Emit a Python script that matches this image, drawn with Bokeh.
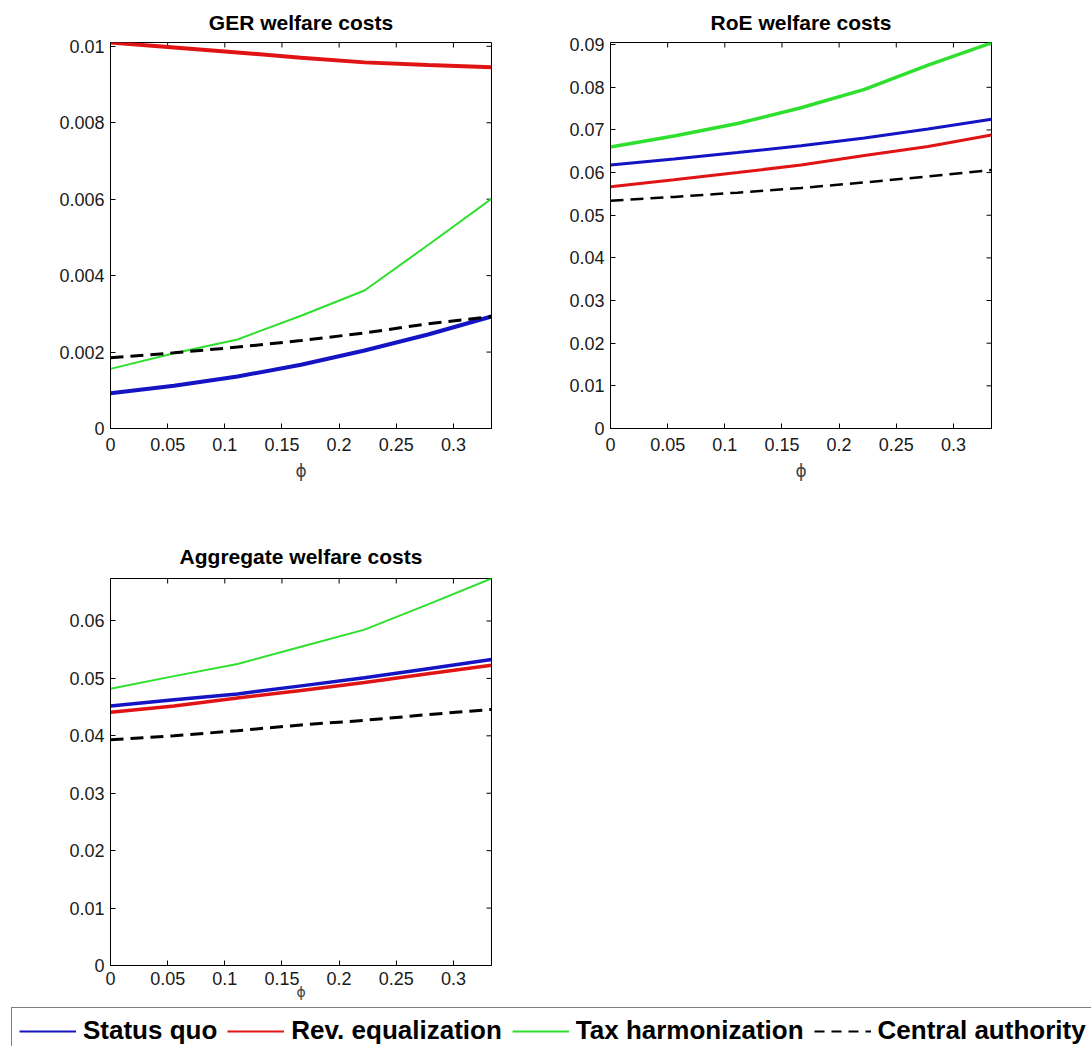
import numpy as np
from bokeh.plotting import figure
from bokeh.models import (Range1d, FixedTicker, CustomJSTickFormatter,
                          Legend, LegendItem)
from bokeh.layouts import column, row
from bokeh.embed import file_html
from bokeh.resources import INLINE

# ---------------- data ----------------
phi = [0.0, 0.0556, 0.1111, 0.1667, 0.2222, 0.2778, 0.3333]
x_ticks = [0, 0.05, 0.1, 0.15, 0.2, 0.25, 0.3]

series_names = ["Status quo", "Rev. equalization", "Tax harmonization", "Central authority"]

ger_title = "GER welfare costs"
ger_status_quo = [0.00092, 0.00112, 0.00136, 0.00167, 0.00204, 0.00246, 0.00293]
ger_rev_eq = [0.0101, 0.00997, 0.00984, 0.00970, 0.00958, 0.00951, 0.00945]
ger_tax_harm = [0.00156, 0.00197, 0.00233, 0.00295, 0.00361, 0.00480, 0.00601]
ger_central = [0.00185, 0.00198, 0.00213, 0.00230, 0.00250, 0.00274, 0.00293]
ger_y_ticks = [0, 0.002, 0.004, 0.006, 0.008, 0.01]
ger_y_max = 0.0101

roe_title = "RoE welfare costs"
roe_status_quo = [0.0618, 0.0632, 0.0647, 0.0663, 0.0681, 0.0702, 0.0725]
roe_rev_eq = [0.0567, 0.0583, 0.0600, 0.0618, 0.0640, 0.0661, 0.0688]
roe_tax_harm = [0.0660, 0.0686, 0.0715, 0.0752, 0.0795, 0.0852, 0.0904]
roe_central = [0.0534, 0.0543, 0.0553, 0.0564, 0.0577, 0.0591, 0.0606]
roe_y_ticks = [0, 0.01, 0.02, 0.03, 0.04, 0.05, 0.06, 0.07, 0.08, 0.09]
roe_y_max = 0.0905

agg_title = "Aggregate welfare costs"
agg_status_quo = [0.0452, 0.0463, 0.0473, 0.0487, 0.0501, 0.0517, 0.0533]
agg_rev_eq = [0.0441, 0.0452, 0.0466, 0.0479, 0.0493, 0.0508, 0.0523]
agg_tax_harm = [0.0482, 0.0504, 0.0525, 0.0555, 0.0585, 0.0629, 0.0674]
agg_central = [0.0393, 0.0400, 0.0409, 0.0419, 0.0427, 0.0437, 0.0446]
agg_y_ticks = [0, 0.01, 0.02, 0.03, 0.04, 0.05, 0.06]
agg_y_max = 0.0674

x_label = "ϕ"

# ---------------- styles ----------------
COLORS = ["#1414c4", "#e01414", "#2ee02e", "#000000"]
DASHES = ["solid", "solid", "solid", "13 7"]
FONT = "Liberation Sans"
TICK_FONT_SIZE = "18px"
TICK_LEN = 5  # px


def fmt():
    return CustomJSTickFormatter(
        code="return tick == 0 ? '0' : String(parseFloat(tick.toPrecision(6)));")


def style_axis(ax, ticks, standoff):
    ax.ticker = FixedTicker(ticks=ticks)
    ax.formatter = fmt()
    ax.major_tick_in = TICK_LEN
    ax.major_tick_out = 0
    ax.minor_tick_line_color = None
    ax.major_tick_line_color = "black"
    ax.axis_line_color = "black"
    ax.major_label_text_font = FONT
    ax.major_label_text_color = "#1a1a1a"
    ax.major_label_text_font_size = TICK_FONT_SIZE
    ax.major_label_standoff = standoff


def make_panel(title, ys, y_max, y_ticks, widths, width, height, borders,
               x_standoff, label_size, label_standoff, title_standoff):
    p = figure(width=width, height=height, title=title,
               x_range=Range1d(0, phi[-1]), y_range=Range1d(0, y_max),
               output_backend="svg", toolbar_location=None,
               min_border_left=borders[0], min_border_right=borders[1],
               min_border_top=borders[2], min_border_bottom=borders[3])
    p.title.align = "center"
    p.title.text_font = FONT
    p.title.text_font_size = "21px"
    p.title.text_font_style = "bold"
    p.title.text_color = "black"
    p.title.standoff = title_standoff
    p.grid.visible = False
    p.outline_line_color = "black"
    p.outline_line_width = 1
    p.background_fill_color = "white"
    p.border_fill_color = "white"
    style_axis(p.xaxis[0], x_ticks, x_standoff)
    style_axis(p.yaxis[0], y_ticks, 6)
    p.xaxis[0].axis_label = x_label
    p.xaxis[0].axis_label_text_font = "DejaVu Sans"
    p.xaxis[0].axis_label_text_font_size = label_size
    p.xaxis[0].axis_label_text_font_style = "normal"
    p.xaxis[0].axis_label_standoff = label_standoff
    # mirrored inward ticks on the top and right edges (MATLAB box style)
    frame_w = width - borders[0] - borders[1]
    frame_h = height - borders[2] - borders[3]
    x_max = phi[-1]
    p.segment(x0=x_ticks, y0=[y_max] * len(x_ticks), x1=x_ticks,
              y1=[y_max * (1 - TICK_LEN / frame_h)] * len(x_ticks),
              line_color="black", line_width=1)
    p.segment(x0=[x_max] * len(y_ticks), y0=y_ticks,
              x1=[x_max * (1 - TICK_LEN / frame_w)] * len(y_ticks), y1=y_ticks,
              line_color="black", line_width=1)
    for y, c, d, w in zip(ys, COLORS, DASHES, widths):
        p.line(phi, y, line_color=c, line_width=w, line_dash=d)
    return p


p1 = make_panel(ger_title, [ger_status_quo, ger_rev_eq, ger_tax_harm, ger_central],
                ger_y_max, ger_y_ticks, [4, 4, 2, 3], 500, 488, (110, 9, 42, 60),
                9, "17px", 7, 17)
p2 = make_panel(roe_title, [roe_status_quo, roe_rev_eq, roe_tax_harm, roe_central],
                roe_y_max, roe_y_ticks, [3, 3, 3.5, 2.5], 591, 488, (110, 100, 42, 60),
                9, "17px", 7, 17)
p3 = make_panel(agg_title, [agg_status_quo, agg_rev_eq, agg_tax_harm, agg_central],
                agg_y_max, agg_y_ticks, [3.5, 3.5, 2, 3], 500, 519, (110, 9, 90, 42),
                6, "14px", -4, 22)

# ---------------- legend strip ----------------
lf = figure(width=1091, height=39, output_backend="svg", toolbar_location=None,
            x_range=Range1d(0, 1), y_range=Range1d(0, 1), min_border=0)
lf.axis.visible = False
lf.grid.visible = False
lf.outline_line_color = None
items = []
for name, c, d in zip(series_names, COLORS, ["solid", "solid", "solid", "10 7"]):
    r = lf.line(np.array([np.nan]), np.array([np.nan]), line_color=c, line_width=2,
                line_dash=d)
    items.append(LegendItem(label=name, renderers=[r]))
legend = Legend(items=items, orientation="horizontal", location=(11, -8),
                glyph_width=57, glyph_height=20, label_standoff=7, spacing=10,
                padding=7, margin=0, border_line_color="black", border_line_width=1,
                label_text_font=FONT, label_text_font_size="26px",
                label_text_font_style="bold", label_text_color="black",
                background_fill_color="white", background_fill_alpha=1)
lf.add_layout(legend)

layout = column(row(p1, p2), row(p3), lf)

with open("out.html", "w") as f:
    f.write(file_html(layout, INLINE))
